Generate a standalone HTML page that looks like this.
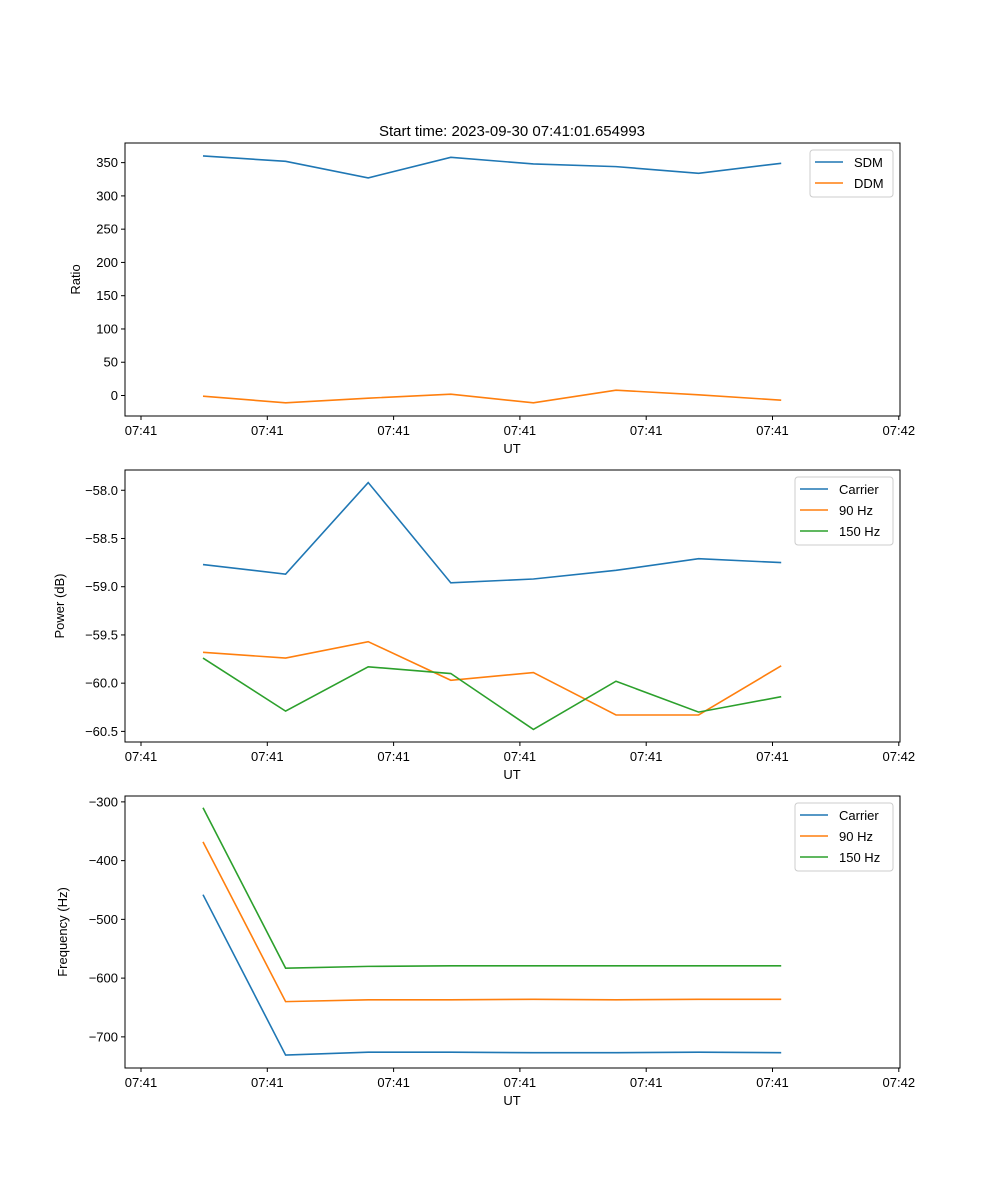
<!DOCTYPE html>
<html><head><meta charset="utf-8"><style>
body{margin:0;background:#fff}
svg{display:block;font-family:"Liberation Sans","DejaVu Sans",sans-serif}
</style></head><body>
<svg id="fig" width="1000" height="1200" xmlns="http://www.w3.org/2000/svg">
<text x="512" y="136" font-size="15" text-anchor="middle">Start time: 2023-09-30 07:41:01.654993</text>
</svg>
<script>
const xTickLabels=["07:41","07:41","07:41","07:41","07:41","07:41","07:42"];
const ratioTicks=[0,50,100,150,200,250,300,350];
const sdm=[360,352,327,358,348,344,334,349];
const ddm=[-1,-11,-4,2,-11,8,1,-7];
const powerTicks=[-58.0,-58.5,-59.0,-59.5,-60.0,-60.5];
const powCarrier=[-58.77,-58.87,-57.92,-58.96,-58.92,-58.83,-58.71,-58.75];
const pow90=[-59.68,-59.74,-59.57,-59.97,-59.89,-60.33,-60.33,-59.82];
const pow150=[-59.74,-60.29,-59.83,-59.90,-60.48,-59.98,-60.30,-60.14];
const freqTicks=[-300,-400,-500,-600,-700];
const freqCarrier=[-458,-731,-726,-726,-727,-727,-726,-727];
const freq90=[-368,-640,-637,-637,-636,-637,-636,-636];
const freq150=[-310,-583,-580,-579,-579,-579,-579,-579];

const svg=document.getElementById('fig');
const NS='http://www.w3.org/2000/svg';
function mk(tag,attrs,parent){const e=document.createElementNS(NS,tag);for(const k in attrs)e.setAttribute(k,attrs[k]);(parent||svg).appendChild(e);return e;}
const L=125,R=900;
const xi=i=>203+i*82.6;
const xt=i=>141+i*126.3;
const C=['#1f77b4','#ff7f0e','#2ca02c'];
function panel(name,top,bot,ymin,ymax,ticks,fmt,ylabel,series,names,leg){
  const g=mk('g',{});
  
  
  const y=v=>bot-(v-ymin)/(ymax-ymin)*(bot-top);
  series.forEach((s,k)=>{
    const p=mk('polyline',{points:s.map((v,i)=>xi(i)+','+y(v)).join(' '),fill:'none',stroke:C[k],'stroke-width':1.6},g);
    
    
  });
  mk('rect',{x:L,y:top,width:R-L,height:bot-top,fill:'none',stroke:'#000','stroke-width':1},g);
  xTickLabels.forEach((t,i)=>{
    mk('line',{x1:xt(i),x2:xt(i),y1:bot,y2:bot+4,stroke:'#000'},g);
    const tx=mk('text',{x:xt(i),y:bot+19,'font-size':13,'text-anchor':'middle'},g);tx.textContent=t;
    
    
  });
  ticks.forEach(v=>{
    mk('line',{x1:L-4,x2:L,y1:y(v),y2:y(v),stroke:'#000'},g);
    const tx=mk('text',{x:L-7,y:y(v)+4.5,'font-size':13,'text-anchor':'end'},g);tx.textContent=fmt(v);
    
    
  });
  const xl=mk('text',{x:512,y:bot+37,'font-size':13,'text-anchor':'middle'},g);xl.textContent='UT';
  
  
  const yl=mk('text',{x:0,y:0,'font-size':13,'text-anchor':'middle',transform:`translate(${leg.yx},${(top+bot)/2}) rotate(-90)`},g);yl.textContent=ylabel;
  
  
  const lg=mk('g',{},g);
  
  
  mk('rect',{x:leg.x,y:top+7,width:R-7-leg.x,height:names.length*21+5,fill:'#fff',stroke:'#ccc',rx:3},lg);
  names.forEach((n,k)=>{
    const yy=top+19+k*21;
    mk('line',{x1:leg.x+5,x2:leg.x+33,y1:yy,y2:yy,stroke:C[k],'stroke-width':1.6},lg);
    const t=mk('text',{x:leg.x+44,y:yy+5,'font-size':13},lg);t.textContent=n;
    
    
  });
}
panel('ratio-panel',143,416,-30.8,379.5,ratioTicks,v=>String(v),'Ratio',[sdm,ddm],['SDM','DDM'],{x:810,yx:80});
panel('power-panel',470,742,-60.61,-57.79,powerTicks,v=>v.toFixed(1).replace('-','\u2212'),'Power (dB)',[powCarrier,pow90,pow150],['Carrier','90 Hz','150 Hz'],{x:795,yx:64});
panel('frequency-panel',796,1068,-753,-290,freqTicks,v=>String(v).replace('-','\u2212'),'Frequency (Hz)',[freqCarrier,freq90,freq150],['Carrier','90 Hz','150 Hz'],{x:795,yx:67});
</script>
</body></html>
